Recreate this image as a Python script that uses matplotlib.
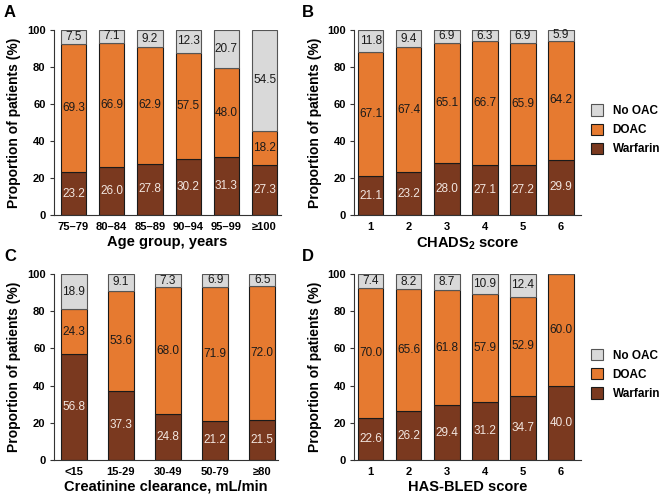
import matplotlib
matplotlib.use('Agg')
import matplotlib.pyplot as plt
import numpy as np

plt.rcParams['font.family'] = ['Liberation Sans', 'DejaVu Sans']
plt.rcParams['mathtext.fontset'] = 'custom'
plt.rcParams['mathtext.rm'] = 'Liberation Sans'
plt.rcParams['mathtext.bf'] = 'Liberation Sans:bold'

# data
age_groups = ['75–79', '80–84', '85–89', '90–94', '95–99', '≥100']
age_warfarin = [23.2, 26.0, 27.8, 30.2, 31.3, 27.3]
age_doac = [69.3, 66.9, 62.9, 57.5, 48.0, 18.2]
age_nooac = [7.5, 7.1, 9.2, 12.3, 20.7, 54.5]

chads_scores = ['1', '2', '3', '4', '5', '6']
chads_warfarin = [21.1, 23.2, 28.0, 27.1, 27.2, 29.9]
chads_doac = [67.1, 67.4, 65.1, 66.7, 65.9, 64.2]
chads_nooac = [11.8, 9.4, 6.9, 6.3, 6.9, 5.9]

crcl_groups = ['<15', '15-29', '30-49', '50-79', '≥80']
crcl_warfarin = [56.8, 37.3, 24.8, 21.2, 21.5]
crcl_doac = [24.3, 53.6, 68.0, 71.9, 72.0]
crcl_nooac = [18.9, 9.1, 7.3, 6.9, 6.5]

hasbled_scores = ['1', '2', '3', '4', '5', '6']
hasbled_warfarin = [22.6, 26.2, 29.4, 31.2, 34.7, 40.0]
hasbled_doac = [70.0, 65.6, 61.8, 57.9, 52.9, 60.0]
hasbled_nooac = [7.4, 8.2, 8.7, 10.9, 12.4, 0.0]

C_WARF = '#7a391f'
C_DOAC = '#e67a30'
C_NONE = '#d9d9d9'
EDGE = '#1a1a1a'

fig = plt.figure(figsize=(6.66, 4.98), dpi=100)

panels = [
    # letter, rect, cats, warf, doac, none, xlabel, width, xlim
    ('A', [0.081, 0.568, 0.341, 0.372], age_groups, age_warfarin, age_doac, age_nooac,
     'Age group, years', 0.66, (-0.51, 5.43)),
    ('B', [0.532, 0.568, 0.340, 0.372], chads_scores, chads_warfarin, chads_doac, chads_nooac,
     r'CHADS$_{\mathbf{2}}$ score', 0.67, (-0.43, 5.52)),
    ('C', [0.081, 0.076, 0.336, 0.374], crcl_groups, crcl_warfarin, crcl_doac, crcl_nooac,
     'Creatinine clearance, mL/min', 0.55, (-0.42, 4.33)),
    ('D', [0.532, 0.076, 0.340, 0.374], hasbled_scores, hasbled_warfarin, hasbled_doac, hasbled_nooac,
     'HAS-BLED score', 0.67, (-0.43, 5.52)),
]

for letter, rect, cats, warf, doac, none, xlabel, width, xlim in panels:
    ax = fig.add_axes(rect)
    x = np.arange(len(cats))
    warf = np.array(warf)
    doac = np.array(doac)
    none = np.array(none)
    b1 = ax.bar(x, warf, width, color=C_WARF, edgecolor=EDGE, linewidth=0.8, label='Warfarin')
    b2 = ax.bar(x, doac, width, bottom=warf, color=C_DOAC, edgecolor=EDGE, linewidth=0.8, label='DOAC')
    b3 = ax.bar(x, none, width, bottom=warf + doac, color=C_NONE, edgecolor='#555555', linewidth=0.8, label='No OAC')

    for i in range(len(cats)):
        ax.text(x[i], warf[i] / 2, f'{warf[i]:.1f}', ha='center', va='center',
                fontsize=8.5, color='#f2e6e0')
        ax.text(x[i], warf[i] + doac[i] / 2, f'{doac[i]:.1f}', ha='center', va='center',
                fontsize=8.5, color='#1a1a1a')
        if none[i] > 0:
            ax.text(x[i], warf[i] + doac[i] + none[i] / 2, f'{none[i]:.1f}', ha='center',
                    va='center', fontsize=8.5, color='#1a1a1a')

    ax.set_xlim(*xlim)
    ax.set_ylim(0, 100)
    ax.set_yticks([0, 20, 40, 60, 80, 100])
    ax.set_xticks(x)
    ax.set_xticklabels(cats)
    ax.spines['top'].set_visible(False)
    ax.spines['right'].set_visible(False)
    ax.spines['left'].set_color('#333333')
    ax.spines['bottom'].set_color('#333333')
    ax.tick_params(axis='x', length=0, pad=5, labelsize=8)
    ax.tick_params(axis='y', length=3, pad=3, labelsize=8, color='#333333')
    for lab in ax.get_xticklabels() + ax.get_yticklabels():
        lab.set_fontweight('bold')
    ax.set_xlabel(xlabel, fontsize=10.5, fontweight='bold', labelpad=2)
    ax.set_ylabel('Proportion of patients (%)', fontsize=10, fontweight='bold', labelpad=4)

    fx = 0.006 if letter in 'AC' else 0.453
    fy = rect[1] + rect[3] + 0.035
    fig.text(fx, fy, letter, fontsize=12, fontweight='bold', ha='left', va='center')

    if letter in 'BD':
        ax.legend([b3, b2, b1], ['No OAC', 'DOAC', 'Warfarin'], loc='center left',
                  bbox_to_anchor=(1.0, 0.46), frameon=False, handlelength=1.0,
                  handleheight=1.1, handletextpad=0.8, labelspacing=0.55,
                  prop={'weight': 'bold', 'size': 8.5})

fig.savefig('out.png', dpi=100)
